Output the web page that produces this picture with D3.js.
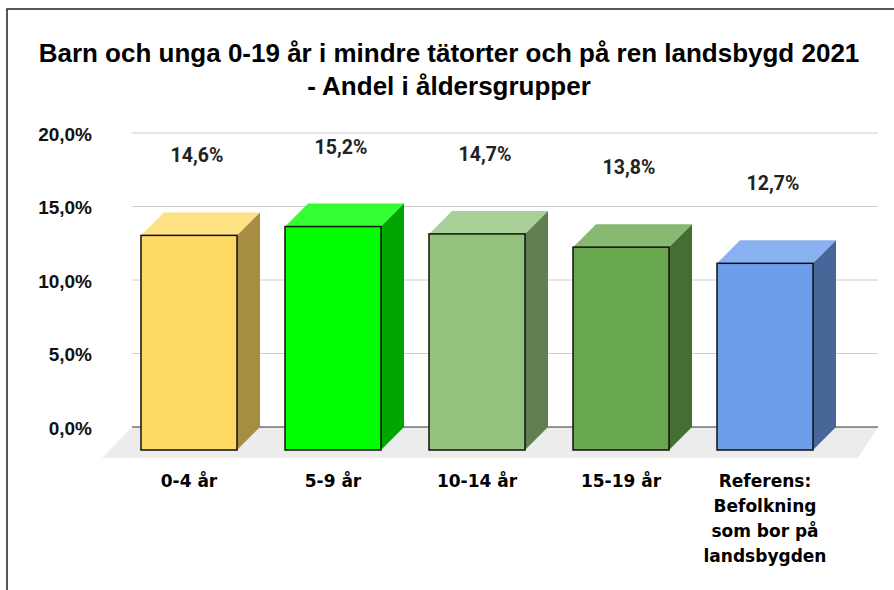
<!DOCTYPE html>
<html>
<head>
<meta charset="utf-8">
<script src="https://cdn.jsdelivr.net/npm/d3@7"></script>
<style>
  html, body { margin: 0; padding: 0; background: #fff; }
</style>
</head>
<body>
<svg id="chart" width="894" height="590"></svg>
<script>
// Chart data
var titleLines = ["Barn och unga 0-19 år i mindre tätorter och på ren landsbygd 2021", "- Andel i åldersgrupper"];
var categories = ["0-4 år", "5-9 år", "10-14 år", "15-19 år", "Referens: Befolkning som bor på landsbygden"];
var categoryLines = [["0-4 år"], ["5-9 år"], ["10-14 år"], ["15-19 år"], ["Referens:", "Befolkning", "som bor på", "landsbygden"]];
var values = [14.6, 15.2, 14.7, 13.8, 12.7];
var colors = ["#ffd966", "#00ff00", "#93c47d", "#6aa84f", "#6d9eeb"];
var yTicks = [0, 5, 10, 15, 20];

var svg = d3.select("#chart");

// 3D depth of the bars
var depthX = 23, depthY = 23;

// Scales (back plane for y, front face for x)
var y = d3.scaleLinear().domain([0, 20]).range([427, 133]);
var x = d3.scaleBand().domain(categories).range([117, 837]).paddingInner(1 / 3).paddingOuter(1 / 6);

var gridLeft = 132, gridRight = 878;

function pct(v) { return d3.format(".1f")(v).replace(".", ",") + "%"; }

// Frame
svg.append("path")
    .attr("d", "M7,590 L7,9 L894,9")
    .attr("fill", "none")
    .attr("stroke", "#222")
    .attr("stroke-width", 1.5);

// Title
svg.selectAll("text.title")
    .data(titleLines)
    .enter().append("text")
    .attr("class", "title")
    .attr("x", 449)
    .attr("y", function(d, i) { return 62 + i * 33; })
    .attr("text-anchor", "middle")
    .attr("font-family", "Liberation Sans, Arial, sans-serif")
    .attr("font-weight", "bold")
    .attr("font-size", 26)
    .attr("fill", "#000")
    .text(function(d) { return d; });

// Floor
svg.append("path")
    .attr("d", "M" + gridLeft + "," + y(0) + " L" + gridRight + "," + y(0) +
               " L" + (gridRight - 20) + "," + (y(0) + 31) + " L" + (gridLeft - 30) + "," + (y(0) + 31) + " Z")
    .attr("fill", "#ececec");

// Grid lines
svg.selectAll("line.grid")
    .data(yTicks.filter(function(d) { return d > 0; }))
    .enter().append("line")
    .attr("class", "grid")
    .attr("x1", gridLeft).attr("x2", gridRight)
    .attr("y1", function(d) { return y(d); })
    .attr("y2", function(d) { return y(d); })
    .attr("stroke", "#cccccc")
    .attr("stroke-width", 1);

// Zero line
svg.append("line")
    .attr("x1", gridLeft).attr("x2", gridRight)
    .attr("y1", y(0)).attr("y2", y(0))
    .attr("stroke", "#333")
    .attr("stroke-width", 1);

// Y axis labels
var yAxis = d3.axisLeft(y).tickValues(yTicks).tickSize(0).tickPadding(0).tickFormat(pct);
var gy = svg.append("g").attr("transform", "translate(92,1)").call(yAxis);
gy.select(".domain").remove();
gy.selectAll("text")
    .attr("font-family", "Liberation Sans, Arial, sans-serif")
    .attr("font-weight", "bold")
    .attr("font-size", 19)
    .attr("fill", "#111");

// Bars
var bars = svg.selectAll("g.bar")
    .data(values)
    .enter().append("g")
    .attr("class", "bar");

bars.each(function(v, i) {
    var g = d3.select(this);
    var x0 = x(categories[i]), w = x.bandwidth();
    var yt = y(v), yb = y(0);
    var c = colors[i];

    // Top face
    g.append("path")
        .attr("d", "M" + x0 + "," + (yt + depthY) + " L" + (x0 + w) + "," + (yt + depthY) +
                   " L" + (x0 + w + depthX) + "," + yt + " L" + (x0 + depthX) + "," + yt + " Z")
        .attr("fill", d3.interpolateRgb(c, "#fff")(0.2));

    // Side face
    g.append("path")
        .attr("d", "M" + (x0 + w) + "," + (yt + depthY) + " L" + (x0 + w + depthX) + "," + yt +
                   " L" + (x0 + w + depthX) + "," + yb + " L" + (x0 + w) + "," + (yb + depthY) + " Z")
        .attr("fill", d3.rgb(c).darker(1.2));

    // Front face
    g.append("rect")
        .attr("x", x0)
        .attr("y", yt + depthY)
        .attr("width", w)
        .attr("height", yb - yt)
        .attr("fill", c)
        .attr("stroke", "#111")
        .attr("stroke-width", 1.5);
});

// Value labels
svg.selectAll("text.value")
    .data(values)
    .enter().append("text")
    .attr("class", "value")
    .attr("x", function(d, i) { return x(categories[i]) + x.bandwidth() / 2 + 8; })
    .attr("y", function(d) { return y(d) - 50; })
    .attr("text-anchor", "middle")
    .attr("font-family", "Roboto, sans-serif")
    .attr("font-weight", "bold")
    .attr("font-size", 19.5)
    .attr("fill", "#222")
    .text(pct);

// Category labels
svg.selectAll("text.cat")
    .data(categoryLines)
    .enter().append("text")
    .attr("class", "cat")
    .attr("text-anchor", "middle")
    .attr("font-family", "DejaVu Sans, sans-serif")
    .attr("font-weight", "bold")
    .attr("font-size", 17)
    .attr("fill", "#000")
    .each(function(lines, i) {
        var t = d3.select(this);
        var cx = x(categories[i]) + x.bandwidth() / 2;
        lines.forEach(function(line, j) {
            t.append("tspan")
                .attr("x", cx)
                .attr("y", 487 + j * 25)
                .text(line);
        });
    });
</script>
</body>
</html>
